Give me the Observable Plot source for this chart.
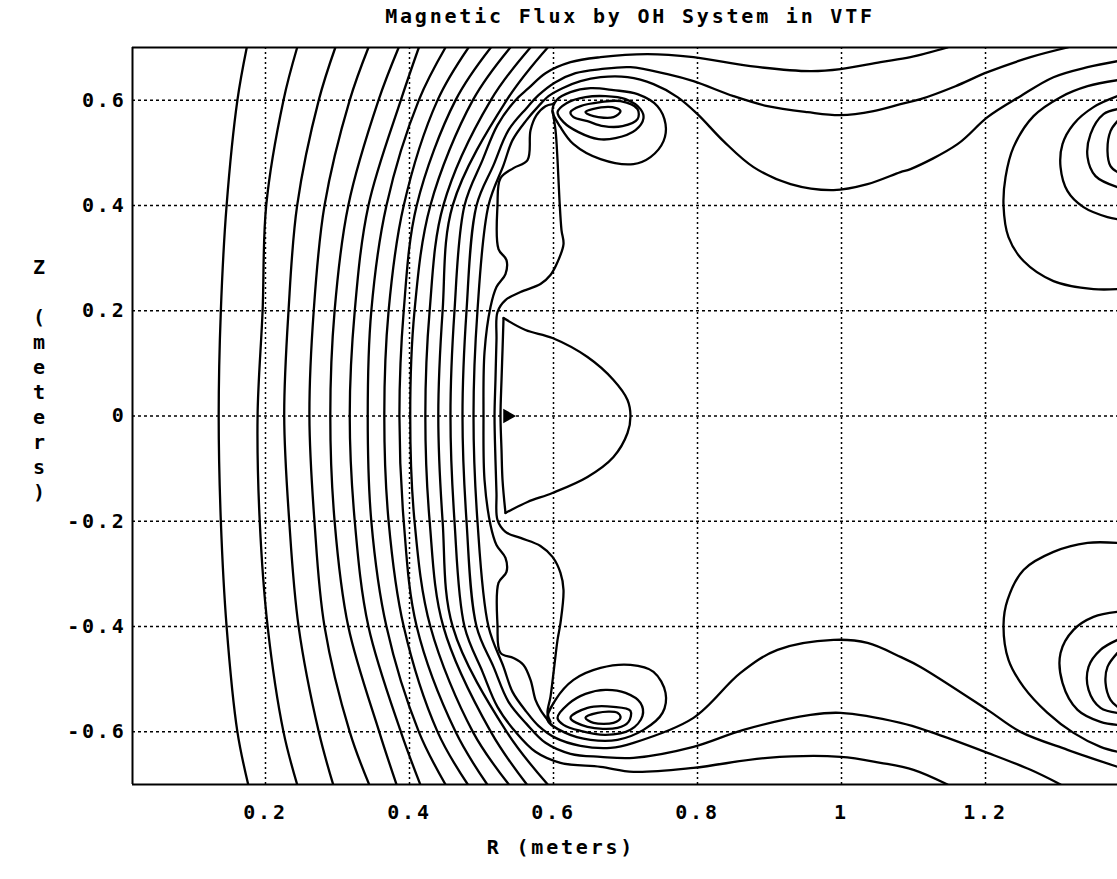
<!DOCTYPE html>
<html><head><meta charset="utf-8">
<script src="https://cdn.jsdelivr.net/npm/d3@7"></script>
<script src="https://cdn.jsdelivr.net/npm/@observablehq/plot@0.6"></script>
<style>
html,body{margin:0;padding:0;background:#fff;}
#chart svg text{letter-spacing:2.8px;}
</style></head><body><div id="chart"></div>
<script>
const title = "Magnetic Flux by OH System in VTF";
const xLabel = "R (meters)";
const yLabelChars = ["Z", "", "(", "m", "e", "t", "e", "r", "s", ")"];
const rTicks = [0.2, 0.4, 0.6, 0.8, 1, 1.2];
const rTickLabels = ["0.2", "0.4", "0.6", "0.8", "1", "1.2"];
const zTicks = [0.6, 0.4, 0.2, 0, -0.2, -0.4, -0.6];
const zTickLabels = ["0.6", "0.4", "0.2", "0", "-0.2", "-0.4", "-0.6"];
const rDomain = [0.0153, 1.3833];
const zDomain = [-0.7, 0.7];

// left flux arcs: R value at each Z level
const arcLevels = [0.7, 0.6, 0.4, 0.2, 0, -0.2, -0.4, -0.6, -0.7];
const arcR = [
  [0.174, 0.161, 0.146, 0.138, 0.135, 0.138, 0.146, 0.161, 0.176],
  [0.244, 0.225, 0.201, 0.196, 0.189, 0.192, 0.203, 0.225, 0.244],
  [0.297, 0.274, 0.244, 0.232, 0.226, 0.233, 0.246, 0.274, 0.294],
  [0.343, 0.317, 0.282, 0.267, 0.261, 0.268, 0.282, 0.317, 0.344],
  [0.385, 0.357, 0.315, 0.296, 0.290, 0.296, 0.315, 0.358, 0.382],
  [0.413, 0.388, 0.343, 0.324, 0.317, 0.324, 0.343, 0.388, 0.415],
  [0.450, 0.413, 0.368, 0.347, 0.342, 0.347, 0.368, 0.413, 0.450],
  [0.482, 0.439, 0.392, 0.371, 0.365, 0.371, 0.392, 0.439, 0.481],
  [0.513, 0.464, 0.410, 0.392, 0.386, 0.392, 0.410, 0.464, 0.508],
  [0.540, 0.488, 0.429, 0.407, 0.401, 0.407, 0.429, 0.488, 0.538],
  [0.568, 0.513, 0.447, 0.428, 0.422, 0.428, 0.447, 0.513, 0.563],
  [0.592, 0.535, 0.460, 0.446, 0.440, 0.446, 0.460, 0.535, 0.592]
];

// contours that bend around the coils, [R, Z]
const lineA = [[1.1472,0.70],[1.0958,0.6816],[1.0542,0.6721],[0.9986,0.6588],[0.9569,0.655],[0.8736,0.6645],[0.7944,0.6816],[0.7306,0.6873],[0.6653,0.6816],[0.6236,0.6721],[0.5889,0.6512],[0.5653,0.6227],[0.5472,0.6],[0.5222,0.5525],[0.5014,0.486],[0.4764,0.4],[0.4625,0.2],[0.4569,0],[0.4625,-0.2],[0.4764,-0.4],[0.5014,-0.486],[0.5222,-0.5525],[0.5472,-0.6],[0.575,-0.6379],[0.6097,-0.6588],[0.6653,-0.6664],[0.7111,-0.6759],[0.7944,-0.6683],[0.8972,-0.6493],[0.9986,-0.6474],[1.0542,-0.6588],[1.1,-0.6721],[1.1472,-0.70]];
const lineB = [[1.3139,0.70],[1.2625,0.6816],[1.2028,0.6531],[1.1583,0.6265],[1.1097,0.6019],[1.0819,0.5924],[1.0444,0.5791],[0.9986,0.5715],[0.9528,0.5772],[0.8972,0.5886],[0.85,0.6076],[0.7944,0.636],[0.7583,0.6493],[0.7069,0.6626],[0.6653,0.6588],[0.6306,0.6512],[0.6028,0.6341],[0.5792,0.6095],[0.5625,0.5848],[0.5375,0.543],[0.5167,0.4766],[0.4931,0.4],[0.4792,0.2],[0.4736,0],[0.4792,-0.2],[0.4931,-0.4],[0.5167,-0.4766],[0.5375,-0.543],[0.5625,-0.5848],[0.5889,-0.6208],[0.6236,-0.6417],[0.6653,-0.6474],[0.7111,-0.6493],[0.7944,-0.6284],[0.8639,-0.5962],[0.9569,-0.5677],[0.9986,-0.5639],[1.0819,-0.5829],[1.1236,-0.6],[1.2028,-0.6398],[1.2625,-0.6721],[1.3042,-0.70]];
const lineC = [[1.3833,0.674],[1.3417,0.6626],[1.2944,0.6436],[1.2486,0.6076],[1.2028,0.5677],[1.1611,0.5164],[1.0958,0.469],[1.0819,0.4633],[1.0361,0.4405],[0.9889,0.4291],[0.9292,0.4405],[0.8778,0.4728],[0.8361,0.5221],[0.8,0.5734],[0.7722,0.6057],[0.7389,0.6303],[0.7028,0.6436],[0.6653,0.6436],[0.6375,0.636],[0.6125,0.6227],[0.5931,0.6076],[0.5792,0.5886],[0.5625,0.562],[0.5431,0.524],[0.5306,0.4766],[0.5097,0.4],[0.4944,0.2],[0.4889,0],[0.4944,-0.2],[0.5097,-0.4],[0.5306,-0.4766],[0.5431,-0.524],[0.5625,-0.562],[0.5792,-0.5886],[0.6028,-0.6114],[0.6375,-0.6265],[0.6792,-0.6303],[0.7111,-0.6208],[0.7944,-0.5734],[0.8597,-0.488],[0.9111,-0.4443],[0.9889,-0.4253],[1.0361,-0.431],[1.0819,-0.4576],[1.1097,-0.4766],[1.2028,-0.5582],[1.2486,-0.6],[1.3139,-0.6341],[1.3833,-0.6664]];
const lineStep = [[0.5986,0.5924],[0.5889,0.5886],[0.5764,0.5715],[0.5681,0.543],[0.5639,0.486],[0.5444,0.4709],[0.5264,0.4519],[0.5222,0.4],[0.5236,0.3171],[0.5347,0.2962],[0.5333,0.2696],[0.5208,0.2449],[0.5125,0.2069],[0.5042,0.1215],[0.5028,0],[0.5042,-0.1215],[0.5125,-0.2069],[0.5208,-0.2449],[0.5333,-0.2696],[0.5347,-0.2962],[0.5236,-0.3171],[0.5222,-0.3968],[0.5264,-0.45],[0.5444,-0.4595],[0.5583,-0.4728],[0.5681,-0.5012],[0.575,-0.5392],[0.5819,-0.5582],[0.5917,-0.5772]];
const lineWiggle = [[0.5986,0.5791],[0.6028,0.543],[0.6056,0.486],[0.6083,0.4101],[0.6111,0.3531],[0.6139,0.3266],[0.6056,0.2924],[0.5958,0.2677],[0.5819,0.2506],[0.5542,0.2354],[0.5333,0.2202],[0.5222,0.1975],[0.5208,0.1443],[0.5194,0.0684],[0.5181,0],[0.5194,-0.0835],[0.5208,-0.1462],[0.5222,-0.1975],[0.5333,-0.2202],[0.5542,-0.2316],[0.5819,-0.2468],[0.5986,-0.2677],[0.6097,-0.2981],[0.6139,-0.3304],[0.6097,-0.393],[0.6056,-0.4253],[0.6,-0.488],[0.5958,-0.5335],[0.5917,-0.5639],[0.5958,-0.581]];
const dRight = [[0.5306,0.1861],[0.5611,0.1633],[0.5986,0.1481],[0.6472,0.112],[0.6833,0.0684],[0.7028,0.0304],[0.7069,0],[0.7028,-0.0323],[0.6833,-0.0778],[0.6472,-0.1158],[0.5986,-0.1462],[0.5639,-0.1633],[0.5333,-0.1842]];
const dLeft = [[0.5333,-0.1842],[0.5292,-0.1215],[0.5278,-0.0646],[0.5264,0],[0.5278,0.0684],[0.5292,0.1253],[0.5306,0.1861]];

// right-hand coil contours (open at right edge)
const rightUpper1 = [[1.3833,0.6379],[1.3417,0.6265],[1.3042,0.6057],[1.2667,0.5696],[1.2389,0.5107],[1.2278,0.4538],[1.225,0.4],[1.2319,0.3399],[1.2528,0.2943],[1.2944,0.2563],[1.35,0.2411],[1.3833,0.2411]];
const rightUpper2 = [[1.3833,0.6076],[1.35,0.5867],[1.3222,0.5544],[1.3069,0.5164],[1.3042,0.4728],[1.3139,0.4272],[1.3361,0.3968],[1.3694,0.3778],[1.3833,0.374]];
const rightUpper3 = [[1.3833,0.5829],[1.3639,0.5734],[1.3458,0.5354],[1.3417,0.4917],[1.3528,0.4557],[1.3833,0.4348]];
const rightUpper4 = [[1.3833,0.5601],[1.3736,0.5411],[1.3694,0.5031],[1.3736,0.4747],[1.3833,0.4633]];
const rightLower1 = [[1.3833,-0.2411],[1.3417,-0.2411],[1.2944,-0.2582],[1.2528,-0.2924],[1.2306,-0.3493],[1.225,-0.3968],[1.2319,-0.4633],[1.2528,-0.5145],[1.2861,-0.5639],[1.3222,-0.6019],[1.3597,-0.6284],[1.3833,-0.6379]];
const rightLower2 = [[1.3833,-0.3721],[1.35,-0.3816],[1.3222,-0.4063],[1.3042,-0.45],[1.3069,-0.5069],[1.3278,-0.5582],[1.3597,-0.581],[1.3833,-0.5867]];
const rightLower3 = [[1.3833,-0.4253],[1.3597,-0.4443],[1.3431,-0.4766],[1.3431,-0.5202],[1.3597,-0.5544],[1.3833,-0.5639]];
const rightLower4 = [[1.3833,-0.45],[1.3694,-0.4766],[1.3667,-0.5069],[1.3736,-0.5392],[1.3833,-0.5525]];

// closed contours around the coils near R = 0.67
const coilUpper1 = [[0.5986,0.5791],[0.6042,0.6],[0.6236,0.6151],[0.6514,0.6227],[0.6833,0.619],[0.7167,0.6114],[0.7444,0.5886],[0.7556,0.5544],[0.7528,0.5221],[0.7347,0.4917],[0.7111,0.4785],[0.6653,0.4879],[0.6278,0.5164],[0.6097,0.5487]];
const coilUpper2 = [[0.6056,0.5772],[0.6181,0.5943],[0.6444,0.6057],[0.6722,0.6076],[0.7,0.6019],[0.7208,0.5829],[0.725,0.5658],[0.7139,0.543],[0.6861,0.5278],[0.6625,0.5259],[0.6347,0.5392],[0.6139,0.5582]];
const coilUpper3 = [[0.6236,0.5772],[0.6375,0.5886],[0.6653,0.5962],[0.6931,0.5981],[0.7167,0.5829],[0.7167,0.5639],[0.6958,0.5506],[0.6694,0.5506],[0.6472,0.5601],[0.6278,0.5677]];
const coilUpper4 = [[0.6444,0.5772],[0.6542,0.5829],[0.6819,0.5867],[0.6931,0.5791],[0.6833,0.5677],[0.6556,0.5696]];
const coilLower1 = [[0.5917,-0.5772],[0.6028,-0.5392],[0.6278,-0.5012],[0.6653,-0.4785],[0.7069,-0.4728],[0.7389,-0.486],[0.7556,-0.5259],[0.7514,-0.5639],[0.725,-0.5962],[0.6889,-0.6151],[0.6514,-0.6151],[0.6167,-0.6019]];
const coilLower2 = [[0.6056,-0.5734],[0.6208,-0.5468],[0.6444,-0.5278],[0.6722,-0.5202],[0.7,-0.5259],[0.7208,-0.5449],[0.7236,-0.5696],[0.7069,-0.5962],[0.6722,-0.6057],[0.6375,-0.5981],[0.6139,-0.5867]];
const coilLower3 = [[0.6236,-0.5734],[0.6472,-0.5544],[0.6833,-0.5525],[0.7069,-0.5601],[0.7042,-0.581],[0.6889,-0.5924],[0.6472,-0.5905]];
const coilLower4 = [[0.6444,-0.5734],[0.6611,-0.5639],[0.6889,-0.5639],[0.6931,-0.5734],[0.6833,-0.5829],[0.6556,-0.5829]];

const markerPoint = [[0.5361, 0]];

// ---- build tables ----
const openRows = [];
arcR.forEach((rs, i) => rs.forEach((r, j) => openRows.push({id: "arc" + i, r, z: arcLevels[j]})));
const openSets = {lineA, lineB, lineC, lineStep, lineWiggle, dRight, dLeft,
  rightUpper1, rightUpper2, rightUpper3, rightUpper4, rightLower1, rightLower2, rightLower3, rightLower4};
for (const [id, pts] of Object.entries(openSets)) pts.forEach(([r, z]) => openRows.push({id, r, z}));
const closedRows = [];
const closedSets = {coilUpper1, coilUpper2, coilUpper3, coilUpper4, coilLower1, coilLower2, coilLower3, coilLower4};
for (const [id, pts] of Object.entries(closedSets)) pts.forEach(([r, z]) => closedRows.push({id, r, z}));

const chart = Plot.plot({
  width: 1117,
  height: 879,
  marginLeft: 132,
  marginRight: 0,
  marginTop: 47,
  marginBottom: 95,
  style: {fontFamily: "'DejaVu Sans Mono', monospace", fontSize: "20px", fontWeight: "bold", color: "black", background: "white"},
  x: {domain: rDomain, ticks: rTicks, tickFormat: d => rTickLabels[rTicks.indexOf(d)], tickSize: 0, tickPadding: 20, label: null},
  y: {domain: zDomain, ticks: zTicks, tickFormat: d => zTickLabels[zTicks.indexOf(d)], tickSize: 0, tickPadding: 6, label: null},
  marks: [
    Plot.ruleX(rTicks, {stroke: "black", strokeWidth: 1.5, strokeDasharray: "2,3"}),
    Plot.ruleY(zTicks, {stroke: "black", strokeWidth: 1.5, strokeDasharray: "3,3"}),
    Plot.line(openRows, {x: "r", y: "z", z: "id", curve: "catmull-rom", stroke: "black", strokeWidth: 2.3, clip: true}),
    Plot.line(closedRows, {x: "r", y: "z", z: "id", curve: "catmull-rom-closed", stroke: "black", strokeWidth: 2.3, clip: true}),
    Plot.dot(markerPoint, {x: d => d[0], y: d => d[1], symbol: "triangle", rotate: 90, r: 4.5, fill: "black", stroke: "black"}),
    Plot.ruleX([rDomain[0]], {stroke: "black", strokeWidth: 2}),
    Plot.ruleY(zDomain, {stroke: "black", strokeWidth: 2}),
    Plot.text([title], {text: d => d, frameAnchor: "top", lineAnchor: "middle", dx: 5, dy: -31}),
    Plot.text([xLabel], {text: d => d, frameAnchor: "bottom", lineAnchor: "middle", dx: -64, dy: 63}),
    Plot.text([yLabelChars.join("\n")], {text: d => d, frameAnchor: "left", textAnchor: "middle", lineAnchor: "middle", dx: -92, dy: -38, lineHeight: 1.25})
  ]
});
document.getElementById("chart").appendChild(chart);
</script>
</body></html>
